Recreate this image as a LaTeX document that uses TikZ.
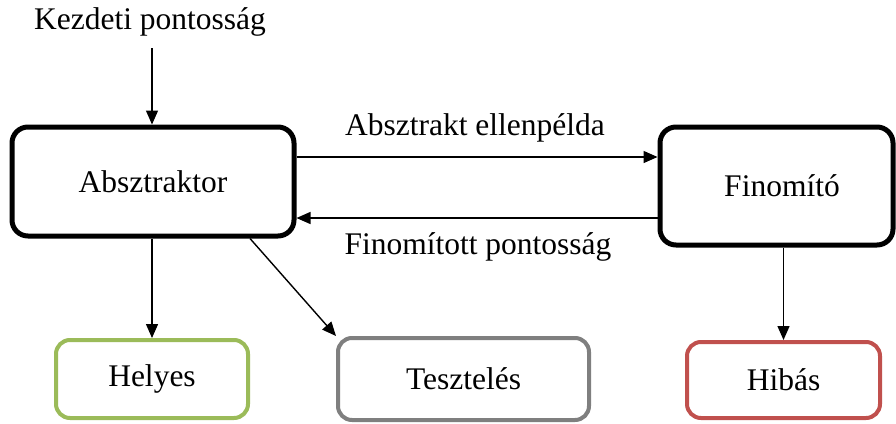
\documentclass[tikz,border=0pt]{standalone}
\usepackage{fontspec}
\setmainfont{Liberation Serif}
\newfontfamily\timesfont{Liberation Serif}
\usetikzlibrary{arrows.meta}
\definecolor{okgreen}{HTML}{9BBB59}
\definecolor{testgray}{HTML}{7F7F7F}
\definecolor{badred}{HTML}{C0504D}
\tikzset{
  txt/.style={font=\timesfont\fontsize{31.5}{36}\selectfont, inner sep=0pt},
  mainbox/.style={txt, draw=black, line width=5pt, rounded corners=16pt, fill=white},
  resbox/.style={txt, line width=4pt, rounded corners=14pt, fill=white, draw},
  conn/.style={line width=1.4pt, -{Triangle[length=14pt,width=12pt]}}
}
\begin{document}
\begin{tikzpicture}[x=1pt,y=-1pt]
\useasboundingbox (0,0) rectangle (896,423);
\node[txt] (kp) at (150,22) {Kezdeti pontosság};
\node[mainbox, minimum width=282pt, minimum height=109pt] (abs) at (153,181.5) {Absztraktor};
\node[mainbox, minimum width=233pt, minimum height=118pt] (fin) at (776.5,186) {\hspace*{11pt}Finomító};
\node[resbox, draw=okgreen, minimum width=192pt, minimum height=78pt] (hel) at (152,379) {Helyes};
\node[resbox, draw=testgray, minimum width=251pt, minimum height=82pt] (tes) at (463.5,379) {Tesztelés};
\node[resbox, draw=badred, minimum width=193pt, minimum height=76pt] (hib) at (783.5,380) {Hibás};
\node[txt] (lab1) at (475,128) {Absztrakt ellenpélda};
\node[txt] (lab2) at (478,247) {Finomított pontosság};
\coordinate (kpend) at (152,48);
\draw[conn] (kpend) -- (abs.north -| kpend);
\draw[conn] (abs.south -| hel.north) -- (hel.north);
\draw[conn] (abs.south -| 250,0) -- (tes.north west);
\draw[conn] (fin.south -| hib.north) -- (hib.north);
\draw[conn] (abs.east |- 0,157) -- (fin.west |- 0,157);
\draw[conn] (fin.west |- 0,218) -- (abs.east |- 0,218);
\end{tikzpicture}
\end{document}
